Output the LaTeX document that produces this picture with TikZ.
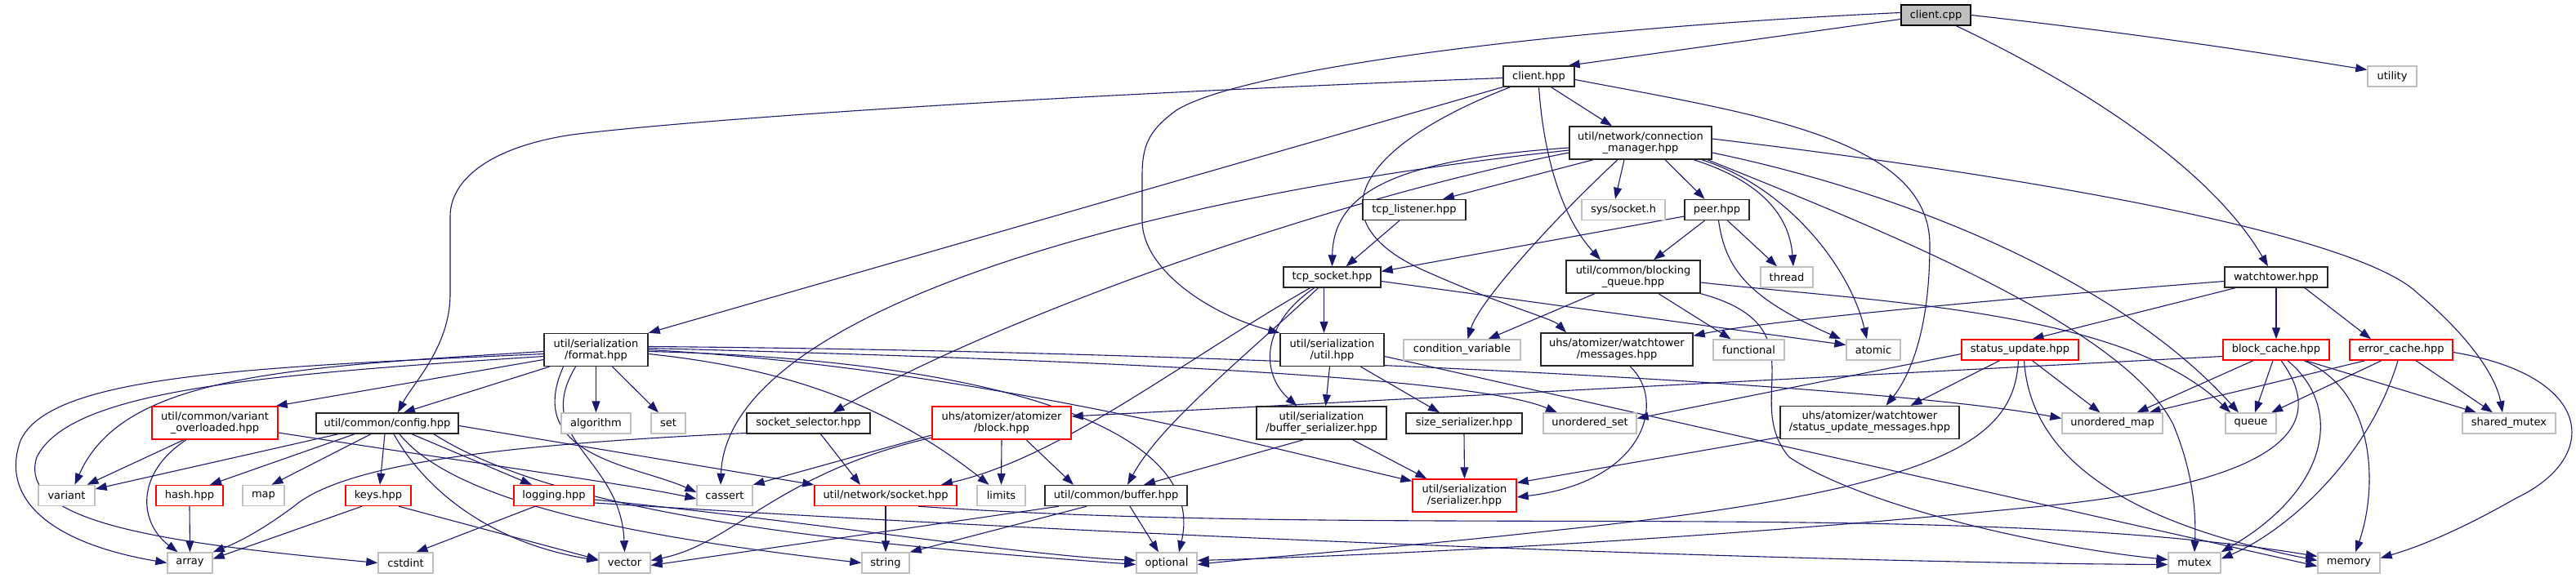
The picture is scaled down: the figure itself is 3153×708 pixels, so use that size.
\documentclass[tikz,border=0pt]{standalone}
\usepackage{fontspec}
\setmainfont{DejaVu Sans}
\usetikzlibrary{arrows.meta}
\definecolor{navy}{RGB}{25,25,112}
\definecolor{gry}{RGB}{191,191,191}
\pgfdeclarelayer{bg}\pgfsetlayers{bg,main}
\begin{document}
\begin{tikzpicture}[x=1pt,y=-1pt,
 nbase/.style={rectangle, inner sep=0pt, align=center, font=\fontsize{13}{14}\selectfont, line width=1.4pt, minimum height=25pt, fill=white},
 nroot/.style={nbase, draw=black, fill=gry},
 nblk/.style={nbase, draw=black!85},
 ngry/.style={nbase, draw=gry},
 nred/.style={nbase, draw=red},
 tall/.style={minimum height=40pt},
 dep/.style={draw=navy, line width=1.1pt, -{Triangle[length=14pt,width=10pt]}}
]
\useasboundingbox (0,0) rectangle (3153,708);

% nodes
\node[nroot, minimum width=85pt] (cpp) at (2369.5,18.5) {client.cpp};
\node[nblk, minimum width=87pt] (chpp) at (1883.5,93.5) {client.hpp};
\node[ngry, minimum width=60pt] (uty) at (2928,93.5) {utility};
\node[nblk, tall, minimum width=174pt] (cm) at (2008,175) {util/network/connection\\\_manager.hpp};
\node[nblk, minimum width=126pt] (tl) at (1731,257) {tcp\_listener.hpp};
\node[ngry, minimum width=102pt] (sys) at (1987,257) {sys/socket.h};
\node[nblk, minimum width=79pt] (peer) at (2101.5,257) {peer.hpp};
\node[nblk, minimum width=119pt] (ts) at (1630.5,339.5) {tcp\_socket.hpp};
\node[nblk, tall, minimum width=164pt] (bq) at (1999,339) {util/common/blocking\\\_queue.hpp};
\node[ngry, minimum width=64pt] (thr) at (2187,339.5) {thread};
\node[nblk, minimum width=126pt] (wt) at (2786,339.5) {watchtower.hpp};
\node[nblk, tall, minimum width=127pt] (fmt) at (729.5,428.5) {util/serialization\\/format.hpp};
\node[nblk, tall, minimum width=127pt] (uhpp) at (1630.5,428.5) {util/serialization\\/util.hpp};
\node[ngry, minimum width=143pt] (cv) at (1789.5,428.5) {condition\_variable};
\node[nblk, tall, minimum width=186pt] (msg) at (1979,428) {uhs/atomizer/watchtower\\/messages.hpp};
\node[ngry, minimum width=87pt] (fun) at (2140.5,428.5) {functional};
\node[ngry, minimum width=66pt] (atom) at (2293,428.5) {atomic};
\node[nred, minimum width=143pt] (su) at (2472.5,428.5) {status\_update.hpp};
\node[nred, minimum width=130pt] (bc) at (2786,428.5) {block\_cache.hpp};
\node[nred, minimum width=126pt] (ec) at (2939,428.5) {error\_cache.hpp};
\node[nred, tall, minimum width=154pt] (vo) at (263,518) {util/common/variant\\\_overloaded.hpp};
\node[nblk, minimum width=174pt] (cfg) at (474,518.5) {util/common/config.hpp};
\node[ngry, minimum width=85pt] (alg) at (729.5,518.5) {algorithm};
\node[ngry, minimum width=42pt] (set) at (818,518.5) {set};
\node[nblk, minimum width=151pt] (ss) at (989.5,518.5) {socket\_selector.hpp};
\node[nred, tall, minimum width=170pt] (blk) at (1226,518) {uhs/atomizer/atomizer\\/block.hpp};
\node[nblk, tall, minimum width=159pt] (bs) at (1617.5,518) {util/serialization\\/buffer\_serializer.hpp};
\node[nblk, minimum width=142pt] (szs) at (1792,518.5) {size\_serializer.hpp};
\node[ngry, minimum width=114pt] (uset) at (1946,518.5) {unordered\_set};
\node[nblk, tall, minimum width=219pt] (sum) at (2288.5,517.5) {uhs/atomizer/watchtower\\/status\_update\_messages.hpp};
\node[ngry, minimum width=123pt] (umap) at (2585.5,518.5) {unordered\_map};
\node[ngry, minimum width=62pt] (q) at (2755,518.5) {queue};
\node[ngry, minimum width=114pt] (smx) at (3071,518.5) {shared\_mutex};
\node[ngry, minimum width=69pt] (var) at (81.5,607) {variant};
\node[nred, minimum width=82pt] (hash) at (232,607) {hash.hpp};
\node[ngry, minimum width=51pt] (map) at (322.5,607) {map};
\node[nred, minimum width=80pt] (keys) at (463,607) {keys.hpp};
\node[nred, minimum width=98pt] (log) at (678,607) {logging.hpp};
\node[ngry, minimum width=68pt] (cas) at (887,607) {cassert};
\node[nred, minimum width=174pt] (sock) at (1084,607) {util/network/socket.hpp};
\node[ngry, minimum width=59pt] (lim) at (1225.5,607) {limits};
\node[nblk, minimum width=174pt] (buf) at (1366,607) {util/common/buffer.hpp};
\node[nred, tall, minimum width=127pt] (ser) at (1792.5,607) {util/serialization\\/serializer.hpp};
\node[ngry, minimum width=55pt] (arr) at (232.5,689.5) {array};
\node[ngry, minimum width=67pt] (cst) at (496.5,689.5) {cstdint};
\node[ngry, minimum width=63pt] (vec) at (764.5,689.5) {vector};
\node[ngry, minimum width=58pt] (str) at (1084,689.5) {string};
\node[ngry, minimum width=74pt] (opt) at (1428,689.5) {optional};
\node[ngry, minimum width=64pt] (mtx) at (2686,689.5) {mutex};
\node[ngry, minimum width=76pt] (mem) at (2875,689.5) {memory};

\begin{pgfonlayer}{bg}
% client.cpp
\draw[dep] ([yshift=-5pt]cpp.west) -- ([xshift=-8pt]chpp.north east);
\draw[dep] ([yshift=3pt]cpp.west) .. controls (1900,35) and (1520,85) .. (1440,135) .. controls (1405,160) and (1398,180) .. (1398,215) -- (1398,270) .. controls (1398,330) and (1480,385) .. (uhpp.north west);
\draw[dep] ([xshift=25pt]cpp.south) .. controls (2600,130) and (2720,230) .. ([xshift=-10pt]wt.north);
\draw[dep] (cpp.east) .. controls (2650,45) and (2800,70) .. ([yshift=8pt]uty.west);
% client.hpp
\draw[dep] ([xshift=15pt]chpp.south) -- ([xshift=-35pt]cm.north);
\draw[dep] (chpp.south west) -- (fmt.north east);
\draw[dep] ([yshift=-2pt]chpp.west) .. controls (1200,120) and (820,150) .. (700,165) .. controls (600,180) and (551,220) .. (551,265) -- (551,360) .. controls (551,425) and (505,470) .. ([xshift=13pt]cfg.north);
\draw[dep] (chpp.south) .. controls (1890,200) and (1915,270) .. ([xshift=-40pt]bq.north);
\draw[dep] ([xshift=-35pt]chpp.south) .. controls (1660,180) and (1610,270) .. (1740,330) .. controls (1840,375) and (1900,390) .. ([xshift=-62pt]msg.north);
\draw[dep] ([yshift=-4pt]chpp.east) .. controls (2150,140) and (2362,170) .. (2362,300) .. controls (2362,420) and (2330,470) .. ([xshift=20pt]sum.north);
% connection manager
\draw[dep] ([xshift=-58pt]cm.south) -- ([xshift=35pt]tl.north);
\draw[dep] ([xshift=-20pt]cm.south) -- ([xshift=-10pt]sys.north);
\draw[dep] ([xshift=30pt]cm.south) -- ([xshift=-15pt]peer.north);
\draw[dep] ([xshift=65pt]cm.south) .. controls (2150,220) and (2190,260) .. ([xshift=8pt]thr.north);
\draw[dep] ([xshift=75pt]cm.south) .. controls (2190,230) and (2265,330) .. ([xshift=-8pt]atom.north);
\draw[dep] ([yshift=-12pt]cm.east) .. controls (2350,240) and (2600,350) .. ([xshift=-15pt]q.north);
\draw[dep] ([xshift=82pt]cm.south) .. controls (2300,280) and (2600,400) .. (2660,520) .. controls (2685,580) and (2688,630) .. (mtx.north);
\draw[dep] ([yshift=5pt]cm.east) .. controls (2600,230) and (2900,300) .. (2960,360) .. controls (3020,410) and (3055,460) .. ([xshift=-8pt]smx.north);
\draw[dep] ([xshift=-28pt]cm.south) .. controls (1900,270) and (1810,370) .. ([xshift=7pt]cv.north);
\draw[dep] ([yshift=-6pt]cm.west) .. controls (1720,195) and (1632,230) .. (ts.north);
\draw[dep] ([yshift=-12pt]cm.west) .. controls (1600,250) and (1200,400) .. ([xshift=30pt]ss.north);
\draw[dep] ([yshift=-9pt]cm.west) .. controls (1400,240) and (890,380) .. ([xshift=-5pt]cas.north);
% tcp listener, peer
\draw[dep] ([xshift=-18pt]tl.south) -- ([xshift=17pt]ts.north);
\draw[dep] ([yshift=-8pt]peer.west) -- ([yshift=7pt]ts.east);
\draw[dep] ([xshift=-15pt]peer.south) -- ([xshift=25pt]bq.north);
\draw[dep] ([xshift=13pt]peer.south) -- ([xshift=-12pt]thr.north);
\draw[dep] ([xshift=2pt]peer.south) .. controls (2112,330) and (2140,365) .. ([xshift=-6pt]atom.north west);
% tcp socket
\draw[dep] ([xshift=-10pt]ts.south) -- ([xshift=-10pt]uhpp.north);
\draw[dep] ([xshift=-22pt]ts.south) .. controls (1540,400) and (1545,460) .. ([xshift=-30pt]bs.north);
\draw[dep] ([xshift=-27pt]ts.south) .. controls (1450,440) and (1300,560) .. ([xshift=68pt]sock.north);
\draw[dep] ([xshift=-17pt]ts.south) .. controls (1520,440) and (1420,520) .. ([xshift=14pt]buf.north);
\draw[dep] ([yshift=-5pt]ts.east) -- ([yshift=6pt]atom.west);
% blocking queue
\draw[dep] ([xshift=-47pt]bq.south) -- ([xshift=32pt]cv.north);
\draw[dep] ([xshift=31pt]bq.south) -- ([xshift=-22pt]fun.north);
\draw[dep] ([yshift=-7pt]bq.east) .. controls (2300,370) and (2600,380) .. ([xshift=-25pt]q.north);
\draw[dep] (bq.south east) .. controls (2230,400) and (2130,490) .. (2190,560) .. controls (2280,620) and (2500,670) .. ([yshift=4pt]mtx.west);
% watchtower
\draw[dep] ([yshift=-5pt]wt.west) .. controls (2400,370) and (2150,395) .. ([yshift=-4pt]msg.north east);
\draw[dep] ([xshift=-50pt]wt.south) -- ([xshift=15pt]su.north);
\draw[dep] (wt.south) -- (bc.north);
\draw[dep] ([xshift=35pt]wt.south) -- ([xshift=-37pt]ec.north);
% socket selector
\draw[dep] ([xshift=15pt]ss.south) -- ([xshift=-31pt]sock.north);
\draw[dep] ([yshift=-12pt]ss.west) .. controls (600,545) and (420,570) .. (360,620) .. controls (320,650) and (290,665) .. (arr.north east);
% format
\draw[dep] ([yshift=-12pt]fmt.west) -- ([xshift=-3pt]vo.north east);
\draw[dep] ([xshift=-57pt]fmt.south) -- ([xshift=20pt]cfg.north);
\draw[dep] (fmt.south) -- (alg.north);
\draw[dep] ([xshift=20pt]fmt.south) -- ([xshift=-12pt]set.north);
\draw[dep] ([yshift=-2pt]fmt.west) .. controls (350,450) and (150,460) .. ([xshift=10pt]var.north);
\draw[dep] ([yshift=-5pt]fmt.west) .. controls (300,450) and (60,460) .. (25,540) .. controls (0,610) and (60,665) .. (arr.west);
\draw[dep] ([yshift=-8pt]fmt.west) .. controls (300,460) and (85,480) .. (45,560) .. controls (20,640) and (200,665) .. (cst.west);
\draw[dep] ([xshift=-25pt]fmt.south) .. controls (650,540) and (760,560) .. (vec.north);
\draw[dep] ([xshift=-40pt]fmt.south) .. controls (640,560) and (780,570) .. ([yshift=4pt]cas.west);
\draw[dep] ([yshift=-5pt]fmt.east) .. controls (950,450) and (1080,490) .. ([xshift=-15pt]lim.north);
\draw[dep] ([yshift=-2pt]fmt.east) .. controls (1200,440) and (1480,520) .. ([xshift=15pt]opt.north);
\draw[dep] ([yshift=2pt]fmt.east) .. controls (1300,440) and (1800,460) .. ([xshift=-40pt]uset.north);
\draw[dep] ([yshift=4pt]fmt.east) .. controls (1500,430) and (2300,470) .. ([yshift=6pt]umap.west);
\draw[dep] (fmt.east) .. controls (1200,450) and (1600,560) .. ([yshift=-3pt]ser.north west);
% config
\draw[dep] ([xshift=-60pt]cfg.south) -- ([yshift=8pt]var.east);
\draw[dep] ([xshift=-40pt]cfg.south) -- ([xshift=25pt]hash.north);
\draw[dep] ([xshift=-20pt]cfg.south) -- ([xshift=10pt]map.north);
\draw[dep] ([xshift=-3pt]cfg.south) -- ([xshift=2pt]keys.north);
\draw[dep] ([xshift=30pt]cfg.south) -- ([xshift=-27pt]log.north);
\draw[dep] ([xshift=8pt]cfg.south) .. controls (520,600) and (600,665) .. ([yshift=3pt]vec.west);
\draw[dep] ([xshift=15pt]cfg.south) .. controls (560,620) and (800,660) .. (str.west);
\draw[dep] ([xshift=57pt]cfg.south) .. controls (700,640) and (1100,670) .. ([yshift=-2pt]opt.west);
\draw[dep] ([yshift=-3pt]cfg.east) -- (sock.north west);
% variant overloaded
\draw[dep] ([xshift=-38pt]vo.south) -- ([xshift=25pt]var.north);
\draw[dep] ([xshift=-35pt]vo.south) .. controls (165,580) and (170,640) .. ([xshift=-15pt]arr.north);
\draw[dep] ([yshift=-12pt]vo.east) .. controls (600,570) and (780,595) .. ([yshift=-4pt]cas.west);
% small headers
\draw[dep] (hash.south) -- (arr.north);
\draw[dep] ([xshift=-20pt]keys.south) -- ([yshift=5pt]arr.east);
\draw[dep] ([xshift=25pt]keys.south) -- ([yshift=4pt]vec.west);
\draw[dep] ([xshift=-23pt]log.south) -- ([xshift=13pt]cst.north);
\draw[dep] ([yshift=-5pt]log.east) .. controls (1000,640) and (1250,680) .. ([yshift=3pt]opt.west);
\draw[dep] ([yshift=-9pt]log.east) .. controls (1500,665) and (2300,690) .. ([yshift=-2pt]mtx.west);
% block
\draw[dep] ([yshift=-15pt]blk.west) -- (cas.north east);
\draw[dep] (blk.south) -- (lim.north);
\draw[dep] ([xshift=30pt]blk.south) -- ([xshift=-52pt]buf.north);
\draw[dep] ([yshift=-18pt]blk.west) .. controls (950,580) and (900,665) .. ([yshift=3pt]vec.east);
% serializers
\draw[dep] ([xshift=-22pt]bs.south) -- ([xshift=34pt]buf.north);
\draw[dep] ([xshift=38pt]bs.south) -- ([xshift=18pt]ser.north west);
\draw[dep] (szs.south) -- (ser.north);
\draw[dep] ([xshift=-3pt]uhpp.south) -- ([xshift=5pt]bs.north);
\draw[dep] ([xshift=35pt]uhpp.south) -- ([xshift=-30pt]szs.north);
\draw[dep] ([yshift=-8pt]uhpp.east) -- ([yshift=-4pt]mem.west);
% buffer, socket
\draw[dep] ([xshift=-36pt]buf.south) -- (str.north east);
\draw[dep] ([xshift=17pt]buf.south) -- ([xshift=-10pt]opt.north);
\draw[dep] ([xshift=-70pt]buf.south) -- ([yshift=-3pt]vec.east);
\draw[dep] (sock.south) -- (str.north);
\draw[dep] ([xshift=40pt]sock.south) .. controls (1700,660) and (2400,610) .. ([yshift=8pt]mem.west);
% messages
\draw[dep] ([xshift=16pt]msg.south) .. controls (2040,490) and (2015,590) .. ([yshift=-2pt]ser.east);
\draw[dep] ([yshift=-18pt]sum.west) -- ([yshift=-5pt]ser.north east);
% status update
\draw[dep] ([xshift=-25pt]su.south) -- ([xshift=50pt]sum.north);
\draw[dep] ([yshift=-5pt]su.west) -- ([yshift=6pt]uset.east);
\draw[dep] ([xshift=15pt]su.south) -- ([xshift=-15pt]umap.north);
\draw[dep] ([xshift=5pt]su.south) .. controls (2485,560) and (2600,640) .. ([yshift=3pt]mem.west);
\draw[dep] ([xshift=-2pt]su.south) .. controls (2465,540) and (2380,600) .. (1900,650) .. controls (1700,672) and (1550,682) .. ([yshift=-2pt]opt.east);
% block cache
\draw[dep] ([yshift=-8pt]bc.west) -- ([yshift=8pt]blk.east);
\draw[dep] ([xshift=-28pt]bc.south) -- ([xshift=30pt]umap.north);
\draw[dep] ([xshift=-4pt]bc.south) -- ([xshift=5pt]q.north);
\draw[dep] ([xshift=6pt]bc.south) .. controls (2850,520) and (2800,590) .. (2500,620) .. controls (2100,660) and (1700,680) .. ([yshift=3pt]opt.east);
\draw[dep] ([xshift=14pt]bc.south) .. controls (2870,500) and (2850,600) .. (mtx.north east);
\draw[dep] ([xshift=34pt]bc.south) .. controls (2910,480) and (2910,600) .. ([xshift=8pt]mem.north);
\draw[dep] ([xshift=36pt]bc.south) -- ([xshift=-40pt]smx.north);
% error cache
\draw[dep] ([xshift=-44pt]ec.south) -- ([xshift=45pt]umap.north);
\draw[dep] ([xshift=-24pt]ec.south) -- ([xshift=25pt]q.north);
\draw[dep] ([xshift=-4pt]ec.south) .. controls (2900,560) and (2800,650) .. ([yshift=5pt]mtx.east);
\draw[dep] ([xshift=18pt]ec.south) -- ([xshift=-20pt]smx.north);
\draw[dep] ([yshift=-3pt]ec.east) .. controls (3175,460) and (3185,560) .. (3080,610) .. controls (3010,650) and (2960,670) .. ([yshift=6pt]mem.east);
\end{pgfonlayer}
\end{tikzpicture}
\end{document}
